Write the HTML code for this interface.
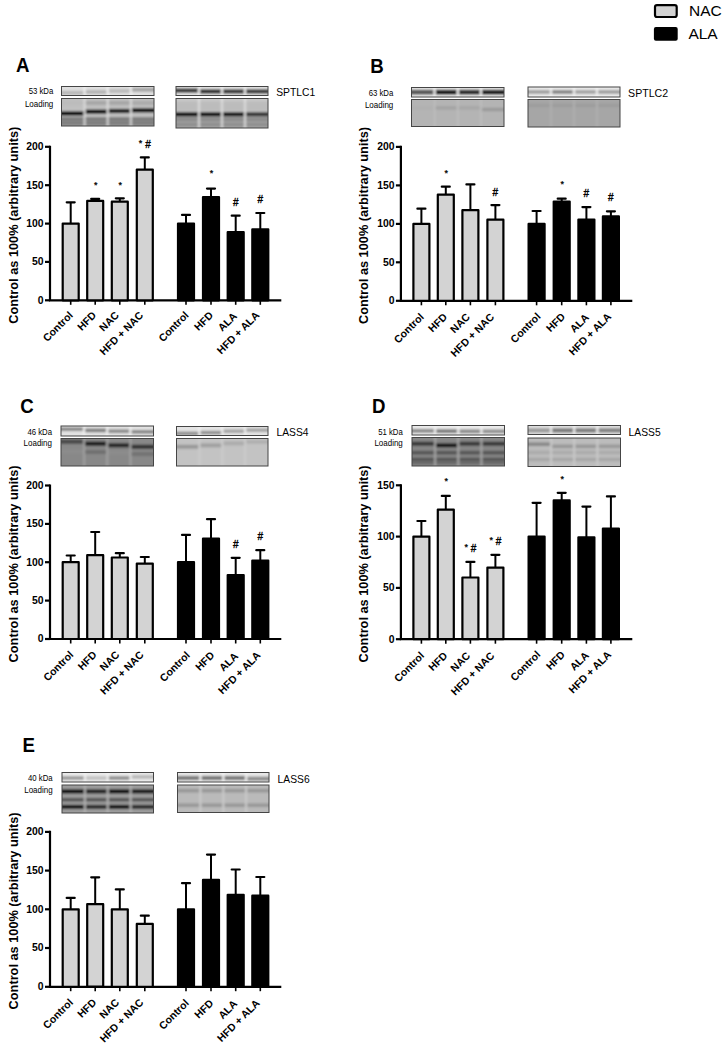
<!DOCTYPE html>
<html><head><meta charset="utf-8"><style>
html,body{margin:0;padding:0;background:#fff;width:727px;height:1046px;overflow:hidden}
svg{display:block;font-family:"Liberation Sans", sans-serif}
</style></head><body>
<svg width="727" height="1046" viewBox="0 0 727 1046" font-family='"Liberation Sans", sans-serif' fill="#000">
<defs><filter id="bl" x="-10%" y="-50%" width="120%" height="200%"><feGaussianBlur stdDeviation="0.9"/></filter></defs>
<text transform="translate(16.0,72.0) scale(0.89,1)" font-size="21" font-weight="bold">A</text>
<text transform="translate(18.2,225.2) rotate(-90)" text-anchor="middle" font-size="12.75" font-weight="bold">Control as 100% (arbitrary units)</text>
<path d="M50.0,145.7 V300.3 H281.3" fill="none" stroke="#000" stroke-width="2.2"/>
<line x1="45.0" y1="300.3" x2="50.0" y2="300.3" stroke="#000" stroke-width="2.2"/>
<text x="43.6" y="303.6" text-anchor="end" font-size="11.5" font-weight="bold" textLength="5.8" lengthAdjust="spacingAndGlyphs">0</text>
<line x1="45.0" y1="261.9" x2="50.0" y2="261.9" stroke="#000" stroke-width="2.2"/>
<text x="43.6" y="265.2" text-anchor="end" font-size="11.5" font-weight="bold" textLength="11.6" lengthAdjust="spacingAndGlyphs">50</text>
<line x1="45.0" y1="223.6" x2="50.0" y2="223.6" stroke="#000" stroke-width="2.2"/>
<text x="43.6" y="226.9" text-anchor="end" font-size="11.5" font-weight="bold" textLength="17.3" lengthAdjust="spacingAndGlyphs">100</text>
<line x1="45.0" y1="185.2" x2="50.0" y2="185.2" stroke="#000" stroke-width="2.2"/>
<text x="43.6" y="188.5" text-anchor="end" font-size="11.5" font-weight="bold" textLength="17.3" lengthAdjust="spacingAndGlyphs">150</text>
<line x1="45.0" y1="146.8" x2="50.0" y2="146.8" stroke="#000" stroke-width="2.2"/>
<text x="43.6" y="150.1" text-anchor="end" font-size="11.5" font-weight="bold" textLength="17.3" lengthAdjust="spacingAndGlyphs">200</text>
<line x1="70.7" y1="223.6" x2="70.7" y2="202.3" stroke="#000" stroke-width="2"/>
<line x1="66.7" y1="202.3" x2="74.7" y2="202.3" stroke="#000" stroke-width="2.2" stroke-linecap="round"/>
<rect x="62.7" y="223.6" width="16.0" height="76.7" fill="#d3d3d3" stroke="#000" stroke-width="2.2" stroke-linejoin="round"/>
<line x1="70.7" y1="300.3" x2="70.7" y2="304.8" stroke="#000" stroke-width="1.6"/>
<text transform="translate(73.6,315.9) rotate(-45)" text-anchor="end" font-size="10.5" font-weight="bold">Control</text>
<line x1="95.2" y1="200.9" x2="95.2" y2="198.9" stroke="#000" stroke-width="2"/>
<line x1="91.2" y1="198.9" x2="99.2" y2="198.9" stroke="#000" stroke-width="2.2" stroke-linecap="round"/>
<rect x="87.2" y="200.9" width="16.0" height="99.4" fill="#d3d3d3" stroke="#000" stroke-width="2.2" stroke-linejoin="round"/>
<line x1="95.2" y1="300.3" x2="95.2" y2="304.8" stroke="#000" stroke-width="1.6"/>
<text transform="translate(96.9,315.9) rotate(-45)" text-anchor="end" font-size="10.5" font-weight="bold">HFD</text>
<text x="95.7" y="187.8" text-anchor="middle" font-size="9" stroke="#000" stroke-width="0.25">*</text>
<line x1="119.8" y1="201.7" x2="119.8" y2="198.3" stroke="#000" stroke-width="2"/>
<line x1="115.8" y1="198.3" x2="123.8" y2="198.3" stroke="#000" stroke-width="2.2" stroke-linecap="round"/>
<rect x="111.8" y="201.7" width="16.0" height="98.6" fill="#d3d3d3" stroke="#000" stroke-width="2.2" stroke-linejoin="round"/>
<line x1="119.8" y1="300.3" x2="119.8" y2="304.8" stroke="#000" stroke-width="1.6"/>
<text transform="translate(119.7,315.9) rotate(-45)" text-anchor="end" font-size="10.5" font-weight="bold">NAC</text>
<text x="120.3" y="187.8" text-anchor="middle" font-size="9" stroke="#000" stroke-width="0.25">*</text>
<line x1="144.8" y1="169.6" x2="144.8" y2="157.4" stroke="#000" stroke-width="2"/>
<line x1="140.8" y1="157.4" x2="148.8" y2="157.4" stroke="#000" stroke-width="2.2" stroke-linecap="round"/>
<rect x="136.8" y="169.6" width="16.0" height="130.7" fill="#d3d3d3" stroke="#000" stroke-width="2.2" stroke-linejoin="round"/>
<line x1="144.8" y1="300.3" x2="144.8" y2="304.8" stroke="#000" stroke-width="1.6"/>
<text transform="translate(143.9,315.9) rotate(-45)" text-anchor="end" font-size="10.5" font-weight="bold">HFD + NAC</text>
<text x="140.6" y="145.6" text-anchor="middle" font-size="9" stroke="#000" stroke-width="0.25">*</text>
<text x="148.0" y="147.6" text-anchor="middle" font-size="10" stroke="#000" stroke-width="0.35">#</text>
<line x1="186.0" y1="223.6" x2="186.0" y2="214.9" stroke="#000" stroke-width="2"/>
<line x1="182.0" y1="214.9" x2="190.0" y2="214.9" stroke="#000" stroke-width="2.2" stroke-linecap="round"/>
<rect x="178.0" y="223.6" width="16.0" height="76.7" fill="#000" stroke="#000" stroke-width="2.2" stroke-linejoin="round"/>
<line x1="186.0" y1="300.3" x2="186.0" y2="304.8" stroke="#000" stroke-width="1.6"/>
<text transform="translate(189.3,316.0) rotate(-45)" text-anchor="end" font-size="10.5" font-weight="bold">Control</text>
<line x1="211.0" y1="197.0" x2="211.0" y2="188.6" stroke="#000" stroke-width="2"/>
<line x1="207.0" y1="188.6" x2="215.0" y2="188.6" stroke="#000" stroke-width="2.2" stroke-linecap="round"/>
<rect x="203.0" y="197.0" width="16.0" height="103.3" fill="#000" stroke="#000" stroke-width="2.2" stroke-linejoin="round"/>
<line x1="211.0" y1="300.3" x2="211.0" y2="304.8" stroke="#000" stroke-width="1.6"/>
<text transform="translate(213.8,316.0) rotate(-45)" text-anchor="end" font-size="10.5" font-weight="bold">HFD</text>
<text x="211.5" y="176.1" text-anchor="middle" font-size="9" stroke="#000" stroke-width="0.25">*</text>
<line x1="235.7" y1="232.2" x2="235.7" y2="215.7" stroke="#000" stroke-width="2"/>
<line x1="231.7" y1="215.7" x2="239.7" y2="215.7" stroke="#000" stroke-width="2.2" stroke-linecap="round"/>
<rect x="227.7" y="232.2" width="16.0" height="68.1" fill="#000" stroke="#000" stroke-width="2.2" stroke-linejoin="round"/>
<line x1="235.7" y1="300.3" x2="235.7" y2="304.8" stroke="#000" stroke-width="1.6"/>
<text transform="translate(237.6,316.8) rotate(-45)" text-anchor="end" font-size="10.5" font-weight="bold">ALA</text>
<text x="235.7" y="206.2" text-anchor="middle" font-size="10" stroke="#000" stroke-width="0.35">#</text>
<line x1="260.3" y1="229.4" x2="260.3" y2="213.0" stroke="#000" stroke-width="2"/>
<line x1="256.3" y1="213.0" x2="264.3" y2="213.0" stroke="#000" stroke-width="2.2" stroke-linecap="round"/>
<rect x="252.3" y="229.4" width="16.0" height="70.9" fill="#000" stroke="#000" stroke-width="2.2" stroke-linejoin="round"/>
<line x1="260.3" y1="300.3" x2="260.3" y2="304.8" stroke="#000" stroke-width="1.6"/>
<text transform="translate(260.0,316.0) rotate(-45)" text-anchor="end" font-size="10.5" font-weight="bold">HFD + ALA</text>
<text x="260.3" y="203.1" text-anchor="middle" font-size="10" stroke="#000" stroke-width="0.35">#</text>
<text x="53.3" y="94.2" text-anchor="end" font-size="8.6" textLength="24.6" lengthAdjust="spacingAndGlyphs">53 kDa</text>
<text x="53.3" y="107.3" text-anchor="end" font-size="8.6" textLength="28.4" lengthAdjust="spacingAndGlyphs">Loading</text>
<clipPath id="c0"><rect x="61.5" y="86.5" width="92.5" height="9.0"/></clipPath>
<g clip-path="url(#c0)"><g filter="url(#bl)">
<rect x="58.5" y="83.5" width="98.5" height="15.0" fill="#e0e0e0"/>
<rect x="59.3" y="90.8" width="24.5" height="3.9" fill="#b8b8b8"/>
<rect x="85.4" y="90.0" width="21.5" height="3.9" fill="#b4b4b4"/>
<rect x="108.5" y="89.0" width="21.5" height="3.9" fill="#bababa"/>
<rect x="131.7" y="87.8" width="24.5" height="3.9" fill="#a4a4a4"/>
<rect x="83.4" y="83.5" width="2.4" height="15.0" fill="#f4f4f4" opacity="0.7"/>
<rect x="106.5" y="83.5" width="2.4" height="15.0" fill="#f4f4f4" opacity="0.7"/>
<rect x="129.7" y="83.5" width="2.4" height="15.0" fill="#f4f4f4" opacity="0.7"/>
</g></g>
<rect x="61.5" y="86.5" width="92.5" height="9.0" fill="none" stroke="#454545" stroke-width="1"/>
<clipPath id="c1"><rect x="61.5" y="98.5" width="92.5" height="27.5"/></clipPath>
<g clip-path="url(#c1)"><g filter="url(#bl)">
<rect x="58.5" y="95.5" width="98.5" height="33.5" fill="#c0c0c0"/>
<rect x="58.5" y="117.0" width="98.5" height="12.9" fill="#989898"/>
<rect x="59.3" y="101.0" width="24.5" height="3.9" fill="#bcbcbc"/>
<rect x="85.4" y="101.0" width="21.5" height="3.9" fill="#a6a6a6"/>
<rect x="108.5" y="101.0" width="21.5" height="3.9" fill="#a6a6a6"/>
<rect x="131.7" y="101.0" width="24.5" height="3.9" fill="#aaaaaa"/>
<rect x="59.3" y="111.4" width="24.5" height="4.2" fill="#050505"/>
<rect x="85.4" y="109.6" width="21.5" height="4.2" fill="#050505"/>
<rect x="108.5" y="108.9" width="21.5" height="4.2" fill="#050505"/>
<rect x="131.7" y="108.2" width="24.5" height="4.2" fill="#050505"/>
<rect x="59.3" y="117.4" width="24.5" height="3.2" fill="#7a7a7a"/>
<rect x="85.4" y="117.4" width="21.5" height="3.2" fill="#7a7a7a"/>
<rect x="108.5" y="117.4" width="21.5" height="3.2" fill="#7a7a7a"/>
<rect x="131.7" y="117.4" width="24.5" height="3.2" fill="#7a7a7a"/>
<rect x="59.3" y="121.4" width="24.5" height="3.2" fill="#7c7c7c"/>
<rect x="85.4" y="121.4" width="21.5" height="3.2" fill="#7c7c7c"/>
<rect x="108.5" y="121.4" width="21.5" height="3.2" fill="#7c7c7c"/>
<rect x="131.7" y="121.4" width="24.5" height="3.2" fill="#7c7c7c"/>
<rect x="83.4" y="95.5" width="2.4" height="33.5" fill="#e0e0e0" opacity="0.7"/>
<rect x="106.5" y="95.5" width="2.4" height="33.5" fill="#e0e0e0" opacity="0.7"/>
<rect x="129.7" y="95.5" width="2.4" height="33.5" fill="#e0e0e0" opacity="0.7"/>
</g></g>
<rect x="61.5" y="98.5" width="92.5" height="27.5" fill="none" stroke="#454545" stroke-width="1"/>
<clipPath id="c2"><rect x="176.0" y="86.5" width="92.0" height="9.0"/></clipPath>
<g clip-path="url(#c2)"><g filter="url(#bl)">
<rect x="173.0" y="83.5" width="98.0" height="15.0" fill="#e4e4e4"/>
<rect x="173.8" y="88.2" width="24.4" height="4.7" fill="#404040"/>
<rect x="199.8" y="89.1" width="21.4" height="4.7" fill="#383838"/>
<rect x="222.8" y="89.1" width="21.4" height="4.7" fill="#404040"/>
<rect x="245.8" y="89.1" width="24.4" height="4.7" fill="#444444"/>
<rect x="197.8" y="83.5" width="2.4" height="15.0" fill="#f4f4f4" opacity="0.7"/>
<rect x="220.8" y="83.5" width="2.4" height="15.0" fill="#f4f4f4" opacity="0.7"/>
<rect x="243.8" y="83.5" width="2.4" height="15.0" fill="#f4f4f4" opacity="0.7"/>
</g></g>
<rect x="176.0" y="86.5" width="92.0" height="9.0" fill="none" stroke="#454545" stroke-width="1"/>
<clipPath id="c3"><rect x="176.0" y="98.5" width="92.0" height="29.5"/></clipPath>
<g clip-path="url(#c3)"><g filter="url(#bl)">
<rect x="173.0" y="95.5" width="98.0" height="35.5" fill="#c8c8c8"/>
<rect x="173.0" y="101.5" width="98.0" height="10.0" fill="#bcbcbc"/>
<rect x="173.0" y="116.5" width="98.0" height="15.3" fill="#a2a2a2"/>
<rect x="173.8" y="112.2" width="24.4" height="4.2" fill="#050505"/>
<rect x="199.8" y="112.2" width="21.4" height="4.2" fill="#050505"/>
<rect x="222.8" y="112.2" width="21.4" height="4.2" fill="#080808"/>
<rect x="245.8" y="112.2" width="24.4" height="4.2" fill="#303030"/>
<rect x="173.8" y="117.9" width="24.4" height="3.2" fill="#8a8a8a"/>
<rect x="199.8" y="117.9" width="21.4" height="3.2" fill="#8a8a8a"/>
<rect x="222.8" y="117.9" width="21.4" height="3.2" fill="#8a8a8a"/>
<rect x="245.8" y="117.9" width="24.4" height="3.2" fill="#8a8a8a"/>
<rect x="173.8" y="122.9" width="24.4" height="3.2" fill="#8e8e8e"/>
<rect x="199.8" y="122.9" width="21.4" height="3.2" fill="#8e8e8e"/>
<rect x="222.8" y="122.9" width="21.4" height="3.2" fill="#8e8e8e"/>
<rect x="245.8" y="122.9" width="24.4" height="3.2" fill="#8e8e8e"/>
<rect x="197.8" y="95.5" width="2.4" height="35.5" fill="#e4e4e4" opacity="0.7"/>
<rect x="220.8" y="95.5" width="2.4" height="35.5" fill="#e4e4e4" opacity="0.7"/>
<rect x="243.8" y="95.5" width="2.4" height="35.5" fill="#e4e4e4" opacity="0.7"/>
</g></g>
<rect x="176.0" y="98.5" width="92.0" height="29.5" fill="none" stroke="#454545" stroke-width="1"/>
<text x="276.2" y="95.7" font-size="10.3">SPTLC1</text>
<text transform="translate(370.3,72.8) scale(0.89,1)" font-size="21" font-weight="bold">B</text>
<text transform="translate(368.3,225.5) rotate(-90)" text-anchor="middle" font-size="12.75" font-weight="bold">Control as 100% (arbitrary units)</text>
<path d="M400.9,145.8 V300.8 H632.3" fill="none" stroke="#000" stroke-width="2.2"/>
<line x1="395.9" y1="300.8" x2="400.9" y2="300.8" stroke="#000" stroke-width="2.2"/>
<text x="394.5" y="304.1" text-anchor="end" font-size="11.5" font-weight="bold" textLength="5.8" lengthAdjust="spacingAndGlyphs">0</text>
<line x1="395.9" y1="262.3" x2="400.9" y2="262.3" stroke="#000" stroke-width="2.2"/>
<text x="394.5" y="265.6" text-anchor="end" font-size="11.5" font-weight="bold" textLength="11.6" lengthAdjust="spacingAndGlyphs">50</text>
<line x1="395.9" y1="223.9" x2="400.9" y2="223.9" stroke="#000" stroke-width="2.2"/>
<text x="394.5" y="227.2" text-anchor="end" font-size="11.5" font-weight="bold" textLength="17.3" lengthAdjust="spacingAndGlyphs">100</text>
<line x1="395.9" y1="185.4" x2="400.9" y2="185.4" stroke="#000" stroke-width="2.2"/>
<text x="394.5" y="188.7" text-anchor="end" font-size="11.5" font-weight="bold" textLength="17.3" lengthAdjust="spacingAndGlyphs">150</text>
<line x1="395.9" y1="146.9" x2="400.9" y2="146.9" stroke="#000" stroke-width="2.2"/>
<text x="394.5" y="150.2" text-anchor="end" font-size="11.5" font-weight="bold" textLength="17.3" lengthAdjust="spacingAndGlyphs">200</text>
<line x1="421.4" y1="223.9" x2="421.4" y2="208.7" stroke="#000" stroke-width="2"/>
<line x1="417.4" y1="208.7" x2="425.4" y2="208.7" stroke="#000" stroke-width="2.2" stroke-linecap="round"/>
<rect x="413.4" y="223.9" width="16.0" height="76.9" fill="#d3d3d3" stroke="#000" stroke-width="2.2" stroke-linejoin="round"/>
<line x1="421.4" y1="300.8" x2="421.4" y2="305.3" stroke="#000" stroke-width="1.6"/>
<text transform="translate(424.6,317.6) rotate(-45)" text-anchor="end" font-size="10.5" font-weight="bold">Control</text>
<line x1="445.8" y1="194.6" x2="445.8" y2="186.7" stroke="#000" stroke-width="2"/>
<line x1="441.8" y1="186.7" x2="449.8" y2="186.7" stroke="#000" stroke-width="2.2" stroke-linecap="round"/>
<rect x="437.8" y="194.6" width="16.0" height="106.2" fill="#d3d3d3" stroke="#000" stroke-width="2.2" stroke-linejoin="round"/>
<line x1="445.8" y1="300.8" x2="445.8" y2="305.3" stroke="#000" stroke-width="1.6"/>
<text transform="translate(447.8,317.6) rotate(-45)" text-anchor="end" font-size="10.5" font-weight="bold">HFD</text>
<text x="446.3" y="176.1" text-anchor="middle" font-size="9" stroke="#000" stroke-width="0.25">*</text>
<line x1="470.4" y1="210.2" x2="470.4" y2="184.4" stroke="#000" stroke-width="2"/>
<line x1="466.4" y1="184.4" x2="474.4" y2="184.4" stroke="#000" stroke-width="2.2" stroke-linecap="round"/>
<rect x="462.4" y="210.2" width="16.0" height="90.6" fill="#d3d3d3" stroke="#000" stroke-width="2.2" stroke-linejoin="round"/>
<line x1="470.4" y1="300.8" x2="470.4" y2="305.3" stroke="#000" stroke-width="1.6"/>
<text transform="translate(470.6,317.6) rotate(-45)" text-anchor="end" font-size="10.5" font-weight="bold">NAC</text>
<line x1="495.4" y1="219.7" x2="495.4" y2="205.1" stroke="#000" stroke-width="2"/>
<line x1="491.4" y1="205.1" x2="499.4" y2="205.1" stroke="#000" stroke-width="2.2" stroke-linecap="round"/>
<rect x="487.4" y="219.7" width="16.0" height="81.1" fill="#d3d3d3" stroke="#000" stroke-width="2.2" stroke-linejoin="round"/>
<line x1="495.4" y1="300.8" x2="495.4" y2="305.3" stroke="#000" stroke-width="1.6"/>
<text transform="translate(494.8,317.6) rotate(-45)" text-anchor="end" font-size="10.5" font-weight="bold">HFD + NAC</text>
<text x="495.4" y="196.2" text-anchor="middle" font-size="10" stroke="#000" stroke-width="0.35">#</text>
<line x1="536.6" y1="223.9" x2="536.6" y2="211.0" stroke="#000" stroke-width="2"/>
<line x1="532.6" y1="211.0" x2="540.6" y2="211.0" stroke="#000" stroke-width="2.2" stroke-linecap="round"/>
<rect x="528.6" y="223.9" width="16.0" height="76.9" fill="#000" stroke="#000" stroke-width="2.2" stroke-linejoin="round"/>
<line x1="536.6" y1="300.8" x2="536.6" y2="305.3" stroke="#000" stroke-width="1.6"/>
<text transform="translate(541.2,317.3) rotate(-45)" text-anchor="end" font-size="10.5" font-weight="bold">Control</text>
<line x1="561.7" y1="201.5" x2="561.7" y2="198.7" stroke="#000" stroke-width="2"/>
<line x1="557.7" y1="198.7" x2="565.7" y2="198.7" stroke="#000" stroke-width="2.2" stroke-linecap="round"/>
<rect x="553.7" y="201.5" width="16.0" height="99.3" fill="#000" stroke="#000" stroke-width="2.2" stroke-linejoin="round"/>
<line x1="561.7" y1="300.8" x2="561.7" y2="305.3" stroke="#000" stroke-width="1.6"/>
<text transform="translate(565.8,317.3) rotate(-45)" text-anchor="end" font-size="10.5" font-weight="bold">HFD</text>
<text x="562.2" y="187.2" text-anchor="middle" font-size="9" stroke="#000" stroke-width="0.25">*</text>
<line x1="586.4" y1="219.5" x2="586.4" y2="207.1" stroke="#000" stroke-width="2"/>
<line x1="582.4" y1="207.1" x2="590.4" y2="207.1" stroke="#000" stroke-width="2.2" stroke-linecap="round"/>
<rect x="578.4" y="219.5" width="16.0" height="81.3" fill="#000" stroke="#000" stroke-width="2.2" stroke-linejoin="round"/>
<line x1="586.4" y1="300.8" x2="586.4" y2="305.3" stroke="#000" stroke-width="1.6"/>
<text transform="translate(589.6,318.1) rotate(-45)" text-anchor="end" font-size="10.5" font-weight="bold">ALA</text>
<text x="586.4" y="197.2" text-anchor="middle" font-size="10" stroke="#000" stroke-width="0.35">#</text>
<line x1="610.9" y1="216.4" x2="610.9" y2="211.3" stroke="#000" stroke-width="2"/>
<line x1="606.9" y1="211.3" x2="614.9" y2="211.3" stroke="#000" stroke-width="2.2" stroke-linecap="round"/>
<rect x="602.9" y="216.4" width="16.0" height="84.4" fill="#000" stroke="#000" stroke-width="2.2" stroke-linejoin="round"/>
<line x1="610.9" y1="300.8" x2="610.9" y2="305.3" stroke="#000" stroke-width="1.6"/>
<text transform="translate(611.9,317.3) rotate(-45)" text-anchor="end" font-size="10.5" font-weight="bold">HFD + ALA</text>
<text x="610.9" y="201.0" text-anchor="middle" font-size="10" stroke="#000" stroke-width="0.35">#</text>
<text x="393.3" y="95.8" text-anchor="end" font-size="8.6" textLength="24.6" lengthAdjust="spacingAndGlyphs">63 kDa</text>
<text x="393.3" y="107.6" text-anchor="end" font-size="8.6" textLength="28.4" lengthAdjust="spacingAndGlyphs">Loading</text>
<clipPath id="c4"><rect x="411.5" y="87.5" width="92.5" height="9.5"/></clipPath>
<g clip-path="url(#c4)"><g filter="url(#bl)">
<rect x="408.5" y="84.5" width="98.5" height="15.5" fill="#f0f0f0"/>
<rect x="409.3" y="89.6" width="24.5" height="5.2" fill="#5a5a5a"/>
<rect x="435.4" y="89.6" width="21.5" height="5.2" fill="#1a1a1a"/>
<rect x="458.6" y="89.6" width="21.5" height="5.2" fill="#2e2e2e"/>
<rect x="481.7" y="89.6" width="24.5" height="5.2" fill="#202020"/>
<rect x="433.4" y="84.5" width="2.4" height="15.5" fill="#f4f4f4" opacity="0.7"/>
<rect x="456.6" y="84.5" width="2.4" height="15.5" fill="#f4f4f4" opacity="0.7"/>
<rect x="479.7" y="84.5" width="2.4" height="15.5" fill="#f4f4f4" opacity="0.7"/>
</g></g>
<rect x="411.5" y="87.5" width="92.5" height="9.5" fill="none" stroke="#454545" stroke-width="1"/>
<clipPath id="c5"><rect x="411.5" y="99.5" width="92.5" height="27.0"/></clipPath>
<g clip-path="url(#c5)"><g filter="url(#bl)">
<rect x="408.5" y="96.5" width="98.5" height="33.0" fill="#b4b4b4"/>
<rect x="409.3" y="106.3" width="24.5" height="3.2" fill="#b0b0b0"/>
<rect x="435.4" y="106.3" width="21.5" height="3.2" fill="#a2a2a2"/>
<rect x="458.6" y="106.3" width="21.5" height="3.2" fill="#a6a6a6"/>
<rect x="481.7" y="107.9" width="24.5" height="3.2" fill="#9a9a9a"/>
<rect x="433.4" y="96.5" width="2.4" height="33.0" fill="#bebebe" opacity="0.7"/>
<rect x="456.6" y="96.5" width="2.4" height="33.0" fill="#bebebe" opacity="0.7"/>
<rect x="479.7" y="96.5" width="2.4" height="33.0" fill="#bebebe" opacity="0.7"/>
</g></g>
<rect x="411.5" y="99.5" width="92.5" height="27.0" fill="none" stroke="#454545" stroke-width="1"/>
<clipPath id="c6"><rect x="528.0" y="87.0" width="92.0" height="10.0"/></clipPath>
<g clip-path="url(#c6)"><g filter="url(#bl)">
<rect x="525.0" y="84.0" width="98.0" height="16.0" fill="#eaeaea"/>
<rect x="525.8" y="90.0" width="24.4" height="3.9" fill="#a0a0a0"/>
<rect x="551.8" y="90.0" width="21.4" height="3.9" fill="#868686"/>
<rect x="574.8" y="90.0" width="21.4" height="3.9" fill="#a4a4a4"/>
<rect x="597.8" y="90.0" width="24.4" height="3.9" fill="#a0a0a0"/>
<rect x="549.8" y="84.0" width="2.4" height="16.0" fill="#f4f4f4" opacity="0.7"/>
<rect x="572.8" y="84.0" width="2.4" height="16.0" fill="#f4f4f4" opacity="0.7"/>
<rect x="595.8" y="84.0" width="2.4" height="16.0" fill="#f4f4f4" opacity="0.7"/>
</g></g>
<rect x="528.0" y="87.0" width="92.0" height="10.0" fill="none" stroke="#454545" stroke-width="1"/>
<clipPath id="c7"><rect x="528.0" y="99.5" width="92.0" height="27.5"/></clipPath>
<g clip-path="url(#c7)"><g filter="url(#bl)">
<rect x="525.0" y="96.5" width="98.0" height="33.5" fill="#a6a6a6"/>
<rect x="525.8" y="103.7" width="24.4" height="3.2" fill="#9c9c9c"/>
<rect x="551.8" y="103.7" width="21.4" height="3.2" fill="#9c9c9c"/>
<rect x="574.8" y="103.7" width="21.4" height="3.2" fill="#9c9c9c"/>
<rect x="597.8" y="103.7" width="24.4" height="3.2" fill="#9c9c9c"/>
<rect x="549.8" y="96.5" width="2.4" height="33.5" fill="#b2b2b2" opacity="0.7"/>
<rect x="572.8" y="96.5" width="2.4" height="33.5" fill="#b2b2b2" opacity="0.7"/>
<rect x="595.8" y="96.5" width="2.4" height="33.5" fill="#b2b2b2" opacity="0.7"/>
</g></g>
<rect x="528.0" y="99.5" width="92.0" height="27.5" fill="none" stroke="#454545" stroke-width="1"/>
<text x="628.1" y="97.3" font-size="10.6">SPTLC2</text>
<text transform="translate(20.3,412.6) scale(0.89,1)" font-size="21" font-weight="bold">C</text>
<text transform="translate(18.2,563.9) rotate(-90)" text-anchor="middle" font-size="12.75" font-weight="bold">Control as 100% (arbitrary units)</text>
<path d="M50.0,484.4 V639.0 H281.3" fill="none" stroke="#000" stroke-width="2.2"/>
<line x1="45.0" y1="639.0" x2="50.0" y2="639.0" stroke="#000" stroke-width="2.2"/>
<text x="43.6" y="642.3" text-anchor="end" font-size="11.5" font-weight="bold" textLength="5.8" lengthAdjust="spacingAndGlyphs">0</text>
<line x1="45.0" y1="600.6" x2="50.0" y2="600.6" stroke="#000" stroke-width="2.2"/>
<text x="43.6" y="603.9" text-anchor="end" font-size="11.5" font-weight="bold" textLength="11.6" lengthAdjust="spacingAndGlyphs">50</text>
<line x1="45.0" y1="562.2" x2="50.0" y2="562.2" stroke="#000" stroke-width="2.2"/>
<text x="43.6" y="565.5" text-anchor="end" font-size="11.5" font-weight="bold" textLength="17.3" lengthAdjust="spacingAndGlyphs">100</text>
<line x1="45.0" y1="523.9" x2="50.0" y2="523.9" stroke="#000" stroke-width="2.2"/>
<text x="43.6" y="527.2" text-anchor="end" font-size="11.5" font-weight="bold" textLength="17.3" lengthAdjust="spacingAndGlyphs">150</text>
<line x1="45.0" y1="485.5" x2="50.0" y2="485.5" stroke="#000" stroke-width="2.2"/>
<text x="43.6" y="488.8" text-anchor="end" font-size="11.5" font-weight="bold" textLength="17.3" lengthAdjust="spacingAndGlyphs">200</text>
<line x1="70.7" y1="562.2" x2="70.7" y2="555.5" stroke="#000" stroke-width="2"/>
<line x1="66.7" y1="555.5" x2="74.7" y2="555.5" stroke="#000" stroke-width="2.2" stroke-linecap="round"/>
<rect x="62.7" y="562.2" width="16.0" height="76.8" fill="#d3d3d3" stroke="#000" stroke-width="2.2" stroke-linejoin="round"/>
<line x1="70.7" y1="639.0" x2="70.7" y2="643.5" stroke="#000" stroke-width="1.6"/>
<text transform="translate(74.1,655.4) rotate(-45)" text-anchor="end" font-size="10.5" font-weight="bold">Control</text>
<line x1="95.2" y1="555.2" x2="95.2" y2="532.0" stroke="#000" stroke-width="2"/>
<line x1="91.2" y1="532.0" x2="99.2" y2="532.0" stroke="#000" stroke-width="2.2" stroke-linecap="round"/>
<rect x="87.2" y="555.2" width="16.0" height="83.8" fill="#d3d3d3" stroke="#000" stroke-width="2.2" stroke-linejoin="round"/>
<line x1="95.2" y1="639.0" x2="95.2" y2="643.5" stroke="#000" stroke-width="1.6"/>
<text transform="translate(97.4,655.4) rotate(-45)" text-anchor="end" font-size="10.5" font-weight="bold">HFD</text>
<line x1="119.8" y1="557.5" x2="119.8" y2="553.2" stroke="#000" stroke-width="2"/>
<line x1="115.8" y1="553.2" x2="123.8" y2="553.2" stroke="#000" stroke-width="2.2" stroke-linecap="round"/>
<rect x="111.8" y="557.5" width="16.0" height="81.5" fill="#d3d3d3" stroke="#000" stroke-width="2.2" stroke-linejoin="round"/>
<line x1="119.8" y1="639.0" x2="119.8" y2="643.5" stroke="#000" stroke-width="1.6"/>
<text transform="translate(120.2,655.4) rotate(-45)" text-anchor="end" font-size="10.5" font-weight="bold">NAC</text>
<line x1="144.8" y1="563.6" x2="144.8" y2="557.0" stroke="#000" stroke-width="2"/>
<line x1="140.8" y1="557.0" x2="148.8" y2="557.0" stroke="#000" stroke-width="2.2" stroke-linecap="round"/>
<rect x="136.8" y="563.6" width="16.0" height="75.4" fill="#d3d3d3" stroke="#000" stroke-width="2.2" stroke-linejoin="round"/>
<line x1="144.8" y1="639.0" x2="144.8" y2="643.5" stroke="#000" stroke-width="1.6"/>
<text transform="translate(144.4,655.4) rotate(-45)" text-anchor="end" font-size="10.5" font-weight="bold">HFD + NAC</text>
<line x1="186.0" y1="562.2" x2="186.0" y2="534.9" stroke="#000" stroke-width="2"/>
<line x1="182.0" y1="534.9" x2="190.0" y2="534.9" stroke="#000" stroke-width="2.2" stroke-linecap="round"/>
<rect x="178.0" y="562.2" width="16.0" height="76.8" fill="#000" stroke="#000" stroke-width="2.2" stroke-linejoin="round"/>
<line x1="186.0" y1="639.0" x2="186.0" y2="643.5" stroke="#000" stroke-width="1.6"/>
<text transform="translate(190.5,656.0) rotate(-45)" text-anchor="end" font-size="10.5" font-weight="bold">Control</text>
<line x1="211.0" y1="538.5" x2="211.0" y2="519.2" stroke="#000" stroke-width="2"/>
<line x1="207.0" y1="519.2" x2="215.0" y2="519.2" stroke="#000" stroke-width="2.2" stroke-linecap="round"/>
<rect x="203.0" y="538.5" width="16.0" height="100.5" fill="#000" stroke="#000" stroke-width="2.2" stroke-linejoin="round"/>
<line x1="211.0" y1="639.0" x2="211.0" y2="643.5" stroke="#000" stroke-width="1.6"/>
<text transform="translate(215.0,656.0) rotate(-45)" text-anchor="end" font-size="10.5" font-weight="bold">HFD</text>
<line x1="235.7" y1="575.1" x2="235.7" y2="557.8" stroke="#000" stroke-width="2"/>
<line x1="231.7" y1="557.8" x2="239.7" y2="557.8" stroke="#000" stroke-width="2.2" stroke-linecap="round"/>
<rect x="227.7" y="575.1" width="16.0" height="63.9" fill="#000" stroke="#000" stroke-width="2.2" stroke-linejoin="round"/>
<line x1="235.7" y1="639.0" x2="235.7" y2="643.5" stroke="#000" stroke-width="1.6"/>
<text transform="translate(238.8,656.8) rotate(-45)" text-anchor="end" font-size="10.5" font-weight="bold">ALA</text>
<text x="235.7" y="547.9" text-anchor="middle" font-size="10" stroke="#000" stroke-width="0.35">#</text>
<line x1="260.3" y1="560.6" x2="260.3" y2="550.2" stroke="#000" stroke-width="2"/>
<line x1="256.3" y1="550.2" x2="264.3" y2="550.2" stroke="#000" stroke-width="2.2" stroke-linecap="round"/>
<rect x="252.3" y="560.6" width="16.0" height="78.4" fill="#000" stroke="#000" stroke-width="2.2" stroke-linejoin="round"/>
<line x1="260.3" y1="639.0" x2="260.3" y2="643.5" stroke="#000" stroke-width="1.6"/>
<text transform="translate(261.2,656.0) rotate(-45)" text-anchor="end" font-size="10.5" font-weight="bold">HFD + ALA</text>
<text x="260.3" y="540.1" text-anchor="middle" font-size="10" stroke="#000" stroke-width="0.35">#</text>
<text x="52.0" y="435.0" text-anchor="end" font-size="8.6" textLength="24.6" lengthAdjust="spacingAndGlyphs">46 kDa</text>
<text x="52.0" y="446.0" text-anchor="end" font-size="8.6" textLength="28.4" lengthAdjust="spacingAndGlyphs">Loading</text>
<clipPath id="c8"><rect x="61.0" y="426.0" width="92.5" height="10.0"/></clipPath>
<g clip-path="url(#c8)"><g filter="url(#bl)">
<rect x="58.0" y="423.0" width="98.5" height="16.0" fill="#e2e2e2"/>
<rect x="58.8" y="427.4" width="24.5" height="3.6" fill="#868686"/>
<rect x="84.9" y="428.6" width="21.5" height="3.6" fill="#7c7c7c"/>
<rect x="108.0" y="429.4" width="21.5" height="3.6" fill="#8a8a8a"/>
<rect x="131.2" y="430.0" width="24.5" height="3.6" fill="#868686"/>
<rect x="82.9" y="423.0" width="2.4" height="16.0" fill="#f4f4f4" opacity="0.7"/>
<rect x="106.0" y="423.0" width="2.4" height="16.0" fill="#f4f4f4" opacity="0.7"/>
<rect x="129.2" y="423.0" width="2.4" height="16.0" fill="#f4f4f4" opacity="0.7"/>
</g></g>
<rect x="61.0" y="426.0" width="92.5" height="10.0" fill="none" stroke="#454545" stroke-width="1"/>
<clipPath id="c9"><rect x="61.0" y="438.5" width="92.5" height="27.5"/></clipPath>
<g clip-path="url(#c9)"><g filter="url(#bl)">
<rect x="58.0" y="435.5" width="98.5" height="33.5" fill="#888888"/>
<rect x="58.8" y="439.6" width="24.5" height="4.2" fill="#484848"/>
<rect x="84.9" y="441.6" width="21.5" height="4.2" fill="#1a1a1a"/>
<rect x="108.0" y="443.2" width="21.5" height="4.2" fill="#262626"/>
<rect x="131.2" y="444.7" width="24.5" height="4.2" fill="#303030"/>
<rect x="58.8" y="449.6" width="24.5" height="3.9" fill="#8c8c8c"/>
<rect x="84.9" y="450.1" width="21.5" height="3.9" fill="#707070"/>
<rect x="108.0" y="450.6" width="21.5" height="3.9" fill="#8c8c8c"/>
<rect x="131.2" y="452.1" width="24.5" height="3.9" fill="#727272"/>
<rect x="82.9" y="435.5" width="2.4" height="33.5" fill="#a6a6a6" opacity="0.7"/>
<rect x="106.0" y="435.5" width="2.4" height="33.5" fill="#a6a6a6" opacity="0.7"/>
<rect x="129.2" y="435.5" width="2.4" height="33.5" fill="#a6a6a6" opacity="0.7"/>
</g></g>
<rect x="61.0" y="438.5" width="92.5" height="27.5" fill="none" stroke="#454545" stroke-width="1"/>
<clipPath id="c10"><rect x="176.5" y="426.5" width="91.5" height="9.0"/></clipPath>
<g clip-path="url(#c10)"><g filter="url(#bl)">
<rect x="173.5" y="423.5" width="97.5" height="15.0" fill="#e4e4e4"/>
<rect x="174.3" y="431.6" width="24.3" height="3.6" fill="#8e8e8e"/>
<rect x="200.2" y="430.8" width="21.3" height="3.6" fill="#909090"/>
<rect x="223.1" y="429.4" width="21.3" height="3.6" fill="#a4a4a4"/>
<rect x="245.9" y="428.4" width="24.3" height="3.6" fill="#a4a4a4"/>
<rect x="198.2" y="423.5" width="2.4" height="15.0" fill="#f4f4f4" opacity="0.7"/>
<rect x="221.1" y="423.5" width="2.4" height="15.0" fill="#f4f4f4" opacity="0.7"/>
<rect x="243.9" y="423.5" width="2.4" height="15.0" fill="#f4f4f4" opacity="0.7"/>
</g></g>
<rect x="176.5" y="426.5" width="91.5" height="9.0" fill="none" stroke="#454545" stroke-width="1"/>
<clipPath id="c11"><rect x="176.5" y="438.5" width="91.5" height="27.5"/></clipPath>
<g clip-path="url(#c11)"><g filter="url(#bl)">
<rect x="173.5" y="435.5" width="97.5" height="33.5" fill="#c3c3c3"/>
<rect x="174.3" y="444.8" width="24.3" height="3.9" fill="#989898"/>
<rect x="200.2" y="443.4" width="21.3" height="3.9" fill="#a0a0a0"/>
<rect x="223.1" y="441.4" width="21.3" height="3.9" fill="#acacac"/>
<rect x="245.9" y="439.9" width="24.3" height="3.9" fill="#b0b0b0"/>
<rect x="198.2" y="435.5" width="2.4" height="33.5" fill="#cecece" opacity="0.7"/>
<rect x="221.1" y="435.5" width="2.4" height="33.5" fill="#cecece" opacity="0.7"/>
<rect x="243.9" y="435.5" width="2.4" height="33.5" fill="#cecece" opacity="0.7"/>
</g></g>
<rect x="176.5" y="438.5" width="91.5" height="27.5" fill="none" stroke="#454545" stroke-width="1"/>
<text x="276.5" y="436.4" font-size="10.3">LASS4</text>
<text transform="translate(371.9,413.0) scale(0.89,1)" font-size="21" font-weight="bold">D</text>
<text transform="translate(368.3,563.9) rotate(-90)" text-anchor="middle" font-size="12.75" font-weight="bold">Control as 100% (arbitrary units)</text>
<path d="M400.9,484.2 V639.2 H632.3" fill="none" stroke="#000" stroke-width="2.2"/>
<line x1="395.9" y1="639.2" x2="400.9" y2="639.2" stroke="#000" stroke-width="2.2"/>
<text x="394.5" y="642.5" text-anchor="end" font-size="11.5" font-weight="bold" textLength="5.8" lengthAdjust="spacingAndGlyphs">0</text>
<line x1="395.9" y1="587.9" x2="400.9" y2="587.9" stroke="#000" stroke-width="2.2"/>
<text x="394.5" y="591.2" text-anchor="end" font-size="11.5" font-weight="bold" textLength="11.6" lengthAdjust="spacingAndGlyphs">50</text>
<line x1="395.9" y1="536.6" x2="400.9" y2="536.6" stroke="#000" stroke-width="2.2"/>
<text x="394.5" y="539.9" text-anchor="end" font-size="11.5" font-weight="bold" textLength="17.3" lengthAdjust="spacingAndGlyphs">100</text>
<line x1="395.9" y1="485.3" x2="400.9" y2="485.3" stroke="#000" stroke-width="2.2"/>
<text x="394.5" y="488.6" text-anchor="end" font-size="11.5" font-weight="bold" textLength="17.3" lengthAdjust="spacingAndGlyphs">150</text>
<line x1="421.4" y1="536.6" x2="421.4" y2="521.0" stroke="#000" stroke-width="2"/>
<line x1="417.4" y1="521.0" x2="425.4" y2="521.0" stroke="#000" stroke-width="2.2" stroke-linecap="round"/>
<rect x="413.4" y="536.6" width="16.0" height="102.6" fill="#d3d3d3" stroke="#000" stroke-width="2.2" stroke-linejoin="round"/>
<line x1="421.4" y1="639.2" x2="421.4" y2="643.7" stroke="#000" stroke-width="1.6"/>
<text transform="translate(424.9,656.3) rotate(-45)" text-anchor="end" font-size="10.5" font-weight="bold">Control</text>
<line x1="445.8" y1="509.6" x2="445.8" y2="495.9" stroke="#000" stroke-width="2"/>
<line x1="441.8" y1="495.9" x2="449.8" y2="495.9" stroke="#000" stroke-width="2.2" stroke-linecap="round"/>
<rect x="437.8" y="509.6" width="16.0" height="129.6" fill="#d3d3d3" stroke="#000" stroke-width="2.2" stroke-linejoin="round"/>
<line x1="445.8" y1="639.2" x2="445.8" y2="643.7" stroke="#000" stroke-width="1.6"/>
<text transform="translate(448.1,656.3) rotate(-45)" text-anchor="end" font-size="10.5" font-weight="bold">HFD</text>
<text x="446.3" y="484.3" text-anchor="middle" font-size="9" stroke="#000" stroke-width="0.25">*</text>
<line x1="470.4" y1="577.5" x2="470.4" y2="561.9" stroke="#000" stroke-width="2"/>
<line x1="466.4" y1="561.9" x2="474.4" y2="561.9" stroke="#000" stroke-width="2.2" stroke-linecap="round"/>
<rect x="462.4" y="577.5" width="16.0" height="61.7" fill="#d3d3d3" stroke="#000" stroke-width="2.2" stroke-linejoin="round"/>
<line x1="470.4" y1="639.2" x2="470.4" y2="643.7" stroke="#000" stroke-width="1.6"/>
<text transform="translate(470.9,656.3) rotate(-45)" text-anchor="end" font-size="10.5" font-weight="bold">NAC</text>
<text x="466.2" y="550.3" text-anchor="middle" font-size="9" stroke="#000" stroke-width="0.25">*</text>
<text x="473.6" y="552.3" text-anchor="middle" font-size="10" stroke="#000" stroke-width="0.35">#</text>
<line x1="495.4" y1="567.6" x2="495.4" y2="554.8" stroke="#000" stroke-width="2"/>
<line x1="491.4" y1="554.8" x2="499.4" y2="554.8" stroke="#000" stroke-width="2.2" stroke-linecap="round"/>
<rect x="487.4" y="567.6" width="16.0" height="71.6" fill="#d3d3d3" stroke="#000" stroke-width="2.2" stroke-linejoin="round"/>
<line x1="495.4" y1="639.2" x2="495.4" y2="643.7" stroke="#000" stroke-width="1.6"/>
<text transform="translate(495.1,656.3) rotate(-45)" text-anchor="end" font-size="10.5" font-weight="bold">HFD + NAC</text>
<text x="491.2" y="543.4" text-anchor="middle" font-size="9" stroke="#000" stroke-width="0.25">*</text>
<text x="498.6" y="545.4" text-anchor="middle" font-size="10" stroke="#000" stroke-width="0.35">#</text>
<line x1="536.6" y1="536.6" x2="536.6" y2="502.8" stroke="#000" stroke-width="2"/>
<line x1="532.6" y1="502.8" x2="540.6" y2="502.8" stroke="#000" stroke-width="2.2" stroke-linecap="round"/>
<rect x="528.6" y="536.6" width="16.0" height="102.6" fill="#000" stroke="#000" stroke-width="2.2" stroke-linejoin="round"/>
<line x1="536.6" y1="639.2" x2="536.6" y2="643.7" stroke="#000" stroke-width="1.6"/>
<text transform="translate(541.1,655.3) rotate(-45)" text-anchor="end" font-size="10.5" font-weight="bold">Control</text>
<line x1="561.7" y1="500.4" x2="561.7" y2="492.8" stroke="#000" stroke-width="2"/>
<line x1="557.7" y1="492.8" x2="565.7" y2="492.8" stroke="#000" stroke-width="2.2" stroke-linecap="round"/>
<rect x="553.7" y="500.4" width="16.0" height="138.8" fill="#000" stroke="#000" stroke-width="2.2" stroke-linejoin="round"/>
<line x1="561.7" y1="639.2" x2="561.7" y2="643.7" stroke="#000" stroke-width="1.6"/>
<text transform="translate(565.7,655.3) rotate(-45)" text-anchor="end" font-size="10.5" font-weight="bold">HFD</text>
<text x="562.2" y="482.2" text-anchor="middle" font-size="9" stroke="#000" stroke-width="0.25">*</text>
<line x1="586.4" y1="537.3" x2="586.4" y2="506.6" stroke="#000" stroke-width="2"/>
<line x1="582.4" y1="506.6" x2="590.4" y2="506.6" stroke="#000" stroke-width="2.2" stroke-linecap="round"/>
<rect x="578.4" y="537.3" width="16.0" height="101.9" fill="#000" stroke="#000" stroke-width="2.2" stroke-linejoin="round"/>
<line x1="586.4" y1="639.2" x2="586.4" y2="643.7" stroke="#000" stroke-width="1.6"/>
<text transform="translate(589.5,656.1) rotate(-45)" text-anchor="end" font-size="10.5" font-weight="bold">ALA</text>
<line x1="610.9" y1="528.5" x2="610.9" y2="496.4" stroke="#000" stroke-width="2"/>
<line x1="606.9" y1="496.4" x2="614.9" y2="496.4" stroke="#000" stroke-width="2.2" stroke-linecap="round"/>
<rect x="602.9" y="528.5" width="16.0" height="110.7" fill="#000" stroke="#000" stroke-width="2.2" stroke-linejoin="round"/>
<line x1="610.9" y1="639.2" x2="610.9" y2="643.7" stroke="#000" stroke-width="1.6"/>
<text transform="translate(611.8,655.3) rotate(-45)" text-anchor="end" font-size="10.5" font-weight="bold">HFD + ALA</text>
<text x="402.8" y="434.6" text-anchor="end" font-size="8.6" textLength="24.6" lengthAdjust="spacingAndGlyphs">51 kDa</text>
<text x="402.8" y="446.0" text-anchor="end" font-size="8.6" textLength="28.4" lengthAdjust="spacingAndGlyphs">Loading</text>
<clipPath id="c12"><rect x="412.0" y="425.5" width="92.5" height="9.5"/></clipPath>
<g clip-path="url(#c12)"><g filter="url(#bl)">
<rect x="409.0" y="422.5" width="98.5" height="15.5" fill="#ececec"/>
<rect x="409.8" y="428.9" width="24.5" height="3.9" fill="#8a8a8a"/>
<rect x="435.9" y="429.2" width="21.5" height="3.9" fill="#7a7a7a"/>
<rect x="459.1" y="429.4" width="21.5" height="3.9" fill="#8a8a8a"/>
<rect x="482.2" y="429.4" width="24.5" height="3.9" fill="#909090"/>
<rect x="433.9" y="422.5" width="2.4" height="15.5" fill="#f4f4f4" opacity="0.7"/>
<rect x="457.1" y="422.5" width="2.4" height="15.5" fill="#f4f4f4" opacity="0.7"/>
<rect x="480.2" y="422.5" width="2.4" height="15.5" fill="#f4f4f4" opacity="0.7"/>
</g></g>
<rect x="412.0" y="425.5" width="92.5" height="9.5" fill="none" stroke="#454545" stroke-width="1"/>
<clipPath id="c13"><rect x="412.0" y="437.5" width="92.5" height="28.5"/></clipPath>
<g clip-path="url(#c13)"><g filter="url(#bl)">
<rect x="409.0" y="434.5" width="98.5" height="34.5" fill="#868686"/>
<rect x="409.8" y="441.8" width="24.5" height="3.9" fill="#353535"/>
<rect x="435.9" y="443.4" width="21.5" height="3.9" fill="#0c0c0c"/>
<rect x="459.1" y="441.8" width="21.5" height="3.9" fill="#353535"/>
<rect x="482.2" y="441.8" width="24.5" height="3.9" fill="#353535"/>
<rect x="409.8" y="450.9" width="24.5" height="3.6" fill="#555"/>
<rect x="435.9" y="450.9" width="21.5" height="3.6" fill="#555"/>
<rect x="459.1" y="450.9" width="21.5" height="3.6" fill="#555"/>
<rect x="482.2" y="450.9" width="24.5" height="3.6" fill="#555"/>
<rect x="409.8" y="457.7" width="24.5" height="3.6" fill="#555"/>
<rect x="435.9" y="457.7" width="21.5" height="3.6" fill="#555"/>
<rect x="459.1" y="457.7" width="21.5" height="3.6" fill="#555"/>
<rect x="482.2" y="457.7" width="24.5" height="3.6" fill="#555"/>
<rect x="409.8" y="461.7" width="24.5" height="2.6" fill="#666"/>
<rect x="435.9" y="461.7" width="21.5" height="2.6" fill="#666"/>
<rect x="459.1" y="461.7" width="21.5" height="2.6" fill="#666"/>
<rect x="482.2" y="461.7" width="24.5" height="2.6" fill="#666"/>
<rect x="433.9" y="434.5" width="2.4" height="34.5" fill="#ababab" opacity="0.7"/>
<rect x="457.1" y="434.5" width="2.4" height="34.5" fill="#ababab" opacity="0.7"/>
<rect x="480.2" y="434.5" width="2.4" height="34.5" fill="#ababab" opacity="0.7"/>
</g></g>
<rect x="412.0" y="437.5" width="92.5" height="28.5" fill="none" stroke="#454545" stroke-width="1"/>
<clipPath id="c14"><rect x="528.0" y="425.5" width="92.5" height="9.0"/></clipPath>
<g clip-path="url(#c14)"><g filter="url(#bl)">
<rect x="525.0" y="422.5" width="98.5" height="15.0" fill="#e0e0e0"/>
<rect x="525.8" y="428.3" width="24.5" height="4.2" fill="#9a9a9a"/>
<rect x="551.9" y="428.3" width="21.5" height="4.2" fill="#787878"/>
<rect x="575.0" y="428.3" width="21.5" height="4.2" fill="#7c7c7c"/>
<rect x="598.2" y="428.3" width="24.5" height="4.2" fill="#808080"/>
<rect x="549.9" y="422.5" width="2.4" height="15.0" fill="#f4f4f4" opacity="0.7"/>
<rect x="573.0" y="422.5" width="2.4" height="15.0" fill="#f4f4f4" opacity="0.7"/>
<rect x="596.2" y="422.5" width="2.4" height="15.0" fill="#f4f4f4" opacity="0.7"/>
</g></g>
<rect x="528.0" y="425.5" width="92.5" height="9.0" fill="none" stroke="#454545" stroke-width="1"/>
<clipPath id="c15"><rect x="528.0" y="438.0" width="92.5" height="28.5"/></clipPath>
<g clip-path="url(#c15)"><g filter="url(#bl)">
<rect x="525.0" y="435.0" width="98.5" height="34.5" fill="#bcbcbc"/>
<rect x="525.8" y="442.4" width="24.5" height="3.6" fill="#888"/>
<rect x="551.9" y="444.5" width="21.5" height="3.6" fill="#989898"/>
<rect x="575.0" y="444.5" width="21.5" height="3.6" fill="#989898"/>
<rect x="598.2" y="444.5" width="24.5" height="3.6" fill="#9a9a9a"/>
<rect x="525.8" y="450.9" width="24.5" height="3.2" fill="#aaa"/>
<rect x="551.9" y="450.9" width="21.5" height="3.2" fill="#aaa"/>
<rect x="575.0" y="450.9" width="21.5" height="3.2" fill="#aaa"/>
<rect x="598.2" y="450.9" width="24.5" height="3.2" fill="#aaa"/>
<rect x="525.8" y="457.9" width="24.5" height="3.2" fill="#a5a5a5"/>
<rect x="551.9" y="457.9" width="21.5" height="3.2" fill="#a5a5a5"/>
<rect x="575.0" y="457.9" width="21.5" height="3.2" fill="#a5a5a5"/>
<rect x="598.2" y="457.9" width="24.5" height="3.2" fill="#a5a5a5"/>
<rect x="549.9" y="435.0" width="2.4" height="34.5" fill="#cccccc" opacity="0.7"/>
<rect x="573.0" y="435.0" width="2.4" height="34.5" fill="#cccccc" opacity="0.7"/>
<rect x="596.2" y="435.0" width="2.4" height="34.5" fill="#cccccc" opacity="0.7"/>
</g></g>
<rect x="528.0" y="438.0" width="92.5" height="28.5" fill="none" stroke="#454545" stroke-width="1"/>
<text x="628.6" y="435.8" font-size="10.3">LASS5</text>
<text transform="translate(22.5,751.7) scale(0.89,1)" font-size="21" font-weight="bold">E</text>
<text transform="translate(18.2,910.9) rotate(-90)" text-anchor="middle" font-size="12.75" font-weight="bold">Control as 100% (arbitrary units)</text>
<path d="M50.0,830.8 V986.8 H281.3" fill="none" stroke="#000" stroke-width="2.2"/>
<line x1="45.0" y1="986.8" x2="50.0" y2="986.8" stroke="#000" stroke-width="2.2"/>
<text x="43.6" y="990.0" text-anchor="end" font-size="11.5" font-weight="bold" textLength="5.8" lengthAdjust="spacingAndGlyphs">0</text>
<line x1="45.0" y1="948.0" x2="50.0" y2="948.0" stroke="#000" stroke-width="2.2"/>
<text x="43.6" y="951.3" text-anchor="end" font-size="11.5" font-weight="bold" textLength="11.6" lengthAdjust="spacingAndGlyphs">50</text>
<line x1="45.0" y1="909.3" x2="50.0" y2="909.3" stroke="#000" stroke-width="2.2"/>
<text x="43.6" y="912.6" text-anchor="end" font-size="11.5" font-weight="bold" textLength="17.3" lengthAdjust="spacingAndGlyphs">100</text>
<line x1="45.0" y1="870.6" x2="50.0" y2="870.6" stroke="#000" stroke-width="2.2"/>
<text x="43.6" y="873.9" text-anchor="end" font-size="11.5" font-weight="bold" textLength="17.3" lengthAdjust="spacingAndGlyphs">150</text>
<line x1="45.0" y1="831.9" x2="50.0" y2="831.9" stroke="#000" stroke-width="2.2"/>
<text x="43.6" y="835.1" text-anchor="end" font-size="11.5" font-weight="bold" textLength="17.3" lengthAdjust="spacingAndGlyphs">200</text>
<line x1="70.7" y1="909.3" x2="70.7" y2="897.9" stroke="#000" stroke-width="2"/>
<line x1="66.7" y1="897.9" x2="74.7" y2="897.9" stroke="#000" stroke-width="2.2" stroke-linecap="round"/>
<rect x="62.7" y="909.3" width="16.0" height="77.5" fill="#d3d3d3" stroke="#000" stroke-width="2.2" stroke-linejoin="round"/>
<line x1="70.7" y1="986.8" x2="70.7" y2="991.2" stroke="#000" stroke-width="1.6"/>
<text transform="translate(73.7,1003.1) rotate(-45)" text-anchor="end" font-size="10.5" font-weight="bold">Control</text>
<line x1="95.2" y1="904.2" x2="95.2" y2="877.3" stroke="#000" stroke-width="2"/>
<line x1="91.2" y1="877.3" x2="99.2" y2="877.3" stroke="#000" stroke-width="2.2" stroke-linecap="round"/>
<rect x="87.2" y="904.2" width="16.0" height="82.5" fill="#d3d3d3" stroke="#000" stroke-width="2.2" stroke-linejoin="round"/>
<line x1="95.2" y1="986.8" x2="95.2" y2="991.2" stroke="#000" stroke-width="1.6"/>
<text transform="translate(97.0,1003.1) rotate(-45)" text-anchor="end" font-size="10.5" font-weight="bold">HFD</text>
<line x1="119.8" y1="909.3" x2="119.8" y2="889.4" stroke="#000" stroke-width="2"/>
<line x1="115.8" y1="889.4" x2="123.8" y2="889.4" stroke="#000" stroke-width="2.2" stroke-linecap="round"/>
<rect x="111.8" y="909.3" width="16.0" height="77.5" fill="#d3d3d3" stroke="#000" stroke-width="2.2" stroke-linejoin="round"/>
<line x1="119.8" y1="986.8" x2="119.8" y2="991.2" stroke="#000" stroke-width="1.6"/>
<text transform="translate(119.8,1003.1) rotate(-45)" text-anchor="end" font-size="10.5" font-weight="bold">NAC</text>
<line x1="144.8" y1="923.9" x2="144.8" y2="915.7" stroke="#000" stroke-width="2"/>
<line x1="140.8" y1="915.7" x2="148.8" y2="915.7" stroke="#000" stroke-width="2.2" stroke-linecap="round"/>
<rect x="136.8" y="923.9" width="16.0" height="62.9" fill="#d3d3d3" stroke="#000" stroke-width="2.2" stroke-linejoin="round"/>
<line x1="144.8" y1="986.8" x2="144.8" y2="991.2" stroke="#000" stroke-width="1.6"/>
<text transform="translate(144.0,1003.1) rotate(-45)" text-anchor="end" font-size="10.5" font-weight="bold">HFD + NAC</text>
<line x1="186.0" y1="909.3" x2="186.0" y2="883.2" stroke="#000" stroke-width="2"/>
<line x1="182.0" y1="883.2" x2="190.0" y2="883.2" stroke="#000" stroke-width="2.2" stroke-linecap="round"/>
<rect x="178.0" y="909.3" width="16.0" height="77.5" fill="#000" stroke="#000" stroke-width="2.2" stroke-linejoin="round"/>
<line x1="186.0" y1="986.8" x2="186.0" y2="991.2" stroke="#000" stroke-width="1.6"/>
<text transform="translate(189.6,1003.8) rotate(-45)" text-anchor="end" font-size="10.5" font-weight="bold">Control</text>
<line x1="211.0" y1="879.9" x2="211.0" y2="854.6" stroke="#000" stroke-width="2"/>
<line x1="207.0" y1="854.6" x2="215.0" y2="854.6" stroke="#000" stroke-width="2.2" stroke-linecap="round"/>
<rect x="203.0" y="879.9" width="16.0" height="106.9" fill="#000" stroke="#000" stroke-width="2.2" stroke-linejoin="round"/>
<line x1="211.0" y1="986.8" x2="211.0" y2="991.2" stroke="#000" stroke-width="1.6"/>
<text transform="translate(214.1,1003.8) rotate(-45)" text-anchor="end" font-size="10.5" font-weight="bold">HFD</text>
<line x1="235.7" y1="894.8" x2="235.7" y2="869.5" stroke="#000" stroke-width="2"/>
<line x1="231.7" y1="869.5" x2="239.7" y2="869.5" stroke="#000" stroke-width="2.2" stroke-linecap="round"/>
<rect x="227.7" y="894.8" width="16.0" height="92.0" fill="#000" stroke="#000" stroke-width="2.2" stroke-linejoin="round"/>
<line x1="235.7" y1="986.8" x2="235.7" y2="991.2" stroke="#000" stroke-width="1.6"/>
<text transform="translate(237.9,1004.5) rotate(-45)" text-anchor="end" font-size="10.5" font-weight="bold">ALA</text>
<line x1="260.3" y1="895.7" x2="260.3" y2="877.0" stroke="#000" stroke-width="2"/>
<line x1="256.3" y1="877.0" x2="264.3" y2="877.0" stroke="#000" stroke-width="2.2" stroke-linecap="round"/>
<rect x="252.3" y="895.7" width="16.0" height="91.0" fill="#000" stroke="#000" stroke-width="2.2" stroke-linejoin="round"/>
<line x1="260.3" y1="986.8" x2="260.3" y2="991.2" stroke="#000" stroke-width="1.6"/>
<text transform="translate(260.3,1003.8) rotate(-45)" text-anchor="end" font-size="10.5" font-weight="bold">HFD + ALA</text>
<text x="52.6" y="781.2" text-anchor="end" font-size="8.6" textLength="24.6" lengthAdjust="spacingAndGlyphs">40 kDa</text>
<text x="52.6" y="793.2" text-anchor="end" font-size="8.6" textLength="28.4" lengthAdjust="spacingAndGlyphs">Loading</text>
<clipPath id="c16"><rect x="62.0" y="772.5" width="91.5" height="9.5"/></clipPath>
<g clip-path="url(#c16)"><g filter="url(#bl)">
<rect x="59.0" y="769.5" width="97.5" height="15.5" fill="#eaeaea"/>
<rect x="59.8" y="776.2" width="24.3" height="3.6" fill="#989898"/>
<rect x="85.7" y="776.2" width="21.3" height="3.6" fill="#c0c0c0"/>
<rect x="108.5" y="776.2" width="21.3" height="3.6" fill="#8c8c8c"/>
<rect x="131.4" y="775.1" width="24.3" height="3.6" fill="#b8b8b8"/>
<rect x="83.7" y="769.5" width="2.4" height="15.5" fill="#f4f4f4" opacity="0.7"/>
<rect x="106.5" y="769.5" width="2.4" height="15.5" fill="#f4f4f4" opacity="0.7"/>
<rect x="129.4" y="769.5" width="2.4" height="15.5" fill="#f4f4f4" opacity="0.7"/>
</g></g>
<rect x="62.0" y="772.5" width="91.5" height="9.5" fill="none" stroke="#454545" stroke-width="1"/>
<clipPath id="c17"><rect x="62.0" y="785.0" width="91.5" height="28.0"/></clipPath>
<g clip-path="url(#c17)"><g filter="url(#bl)">
<rect x="59.0" y="782.0" width="97.5" height="34.0" fill="#9c9c9c"/>
<rect x="59.8" y="789.3" width="24.3" height="4.2" fill="#080808"/>
<rect x="85.7" y="789.3" width="21.3" height="4.2" fill="#222"/>
<rect x="108.5" y="789.3" width="21.3" height="4.2" fill="#080808"/>
<rect x="131.4" y="789.3" width="24.3" height="4.2" fill="#151515"/>
<rect x="59.8" y="797.9" width="24.3" height="3.6" fill="#555"/>
<rect x="85.7" y="797.9" width="21.3" height="3.6" fill="#555"/>
<rect x="108.5" y="797.9" width="21.3" height="3.6" fill="#555"/>
<rect x="131.4" y="797.9" width="24.3" height="3.6" fill="#555"/>
<rect x="59.8" y="804.8" width="24.3" height="4.2" fill="#101010"/>
<rect x="85.7" y="804.8" width="21.3" height="4.2" fill="#2c2c2c"/>
<rect x="108.5" y="804.8" width="21.3" height="4.2" fill="#0c0c0c"/>
<rect x="131.4" y="804.8" width="24.3" height="4.2" fill="#2c2c2c"/>
<rect x="83.7" y="782.0" width="2.4" height="34.0" fill="#b6b6b6" opacity="0.7"/>
<rect x="106.5" y="782.0" width="2.4" height="34.0" fill="#b6b6b6" opacity="0.7"/>
<rect x="129.4" y="782.0" width="2.4" height="34.0" fill="#b6b6b6" opacity="0.7"/>
</g></g>
<rect x="62.0" y="785.0" width="91.5" height="28.0" fill="none" stroke="#454545" stroke-width="1"/>
<clipPath id="c18"><rect x="177.5" y="772.5" width="91.5" height="9.5"/></clipPath>
<g clip-path="url(#c18)"><g filter="url(#bl)">
<rect x="174.5" y="769.5" width="97.5" height="15.5" fill="#e8e8e8"/>
<rect x="175.3" y="775.9" width="24.3" height="4.2" fill="#787878"/>
<rect x="201.2" y="775.9" width="21.3" height="4.2" fill="#747474"/>
<rect x="224.1" y="775.9" width="21.3" height="4.2" fill="#787878"/>
<rect x="246.9" y="776.6" width="24.3" height="4.2" fill="#8e8e8e"/>
<rect x="199.2" y="769.5" width="2.4" height="15.5" fill="#f4f4f4" opacity="0.7"/>
<rect x="222.1" y="769.5" width="2.4" height="15.5" fill="#f4f4f4" opacity="0.7"/>
<rect x="244.9" y="769.5" width="2.4" height="15.5" fill="#f4f4f4" opacity="0.7"/>
</g></g>
<rect x="177.5" y="772.5" width="91.5" height="9.5" fill="none" stroke="#454545" stroke-width="1"/>
<clipPath id="c19"><rect x="177.5" y="785.0" width="91.5" height="27.5"/></clipPath>
<g clip-path="url(#c19)"><g filter="url(#bl)">
<rect x="174.5" y="782.0" width="97.5" height="33.5" fill="#bababa"/>
<rect x="175.3" y="788.9" width="24.3" height="3.6" fill="#979797"/>
<rect x="201.2" y="788.9" width="21.3" height="3.6" fill="#979797"/>
<rect x="224.1" y="788.9" width="21.3" height="3.6" fill="#979797"/>
<rect x="246.9" y="788.9" width="24.3" height="3.6" fill="#979797"/>
<rect x="175.3" y="803.4" width="24.3" height="3.6" fill="#989898"/>
<rect x="201.2" y="803.4" width="21.3" height="3.6" fill="#989898"/>
<rect x="224.1" y="803.4" width="21.3" height="3.6" fill="#989898"/>
<rect x="246.9" y="803.4" width="24.3" height="3.6" fill="#989898"/>
<rect x="199.2" y="782.0" width="2.4" height="33.5" fill="#cecece" opacity="0.7"/>
<rect x="222.1" y="782.0" width="2.4" height="33.5" fill="#cecece" opacity="0.7"/>
<rect x="244.9" y="782.0" width="2.4" height="33.5" fill="#cecece" opacity="0.7"/>
</g></g>
<rect x="177.5" y="785.0" width="91.5" height="27.5" fill="none" stroke="#454545" stroke-width="1"/>
<text x="277.6" y="782.6" font-size="10.3">LASS6</text>
<rect x="655" y="5.1" width="21.7" height="11.9" rx="2" fill="#d3d3d3" stroke="#000" stroke-width="2.2"/>
<rect x="653.9" y="26.9" width="23.8" height="13.9" rx="2" fill="#000"/>
<text x="689" y="15.9" font-size="15.5">NAC</text>
<text x="688.4" y="39" font-size="15.5">ALA</text>
</svg>
</body></html>
